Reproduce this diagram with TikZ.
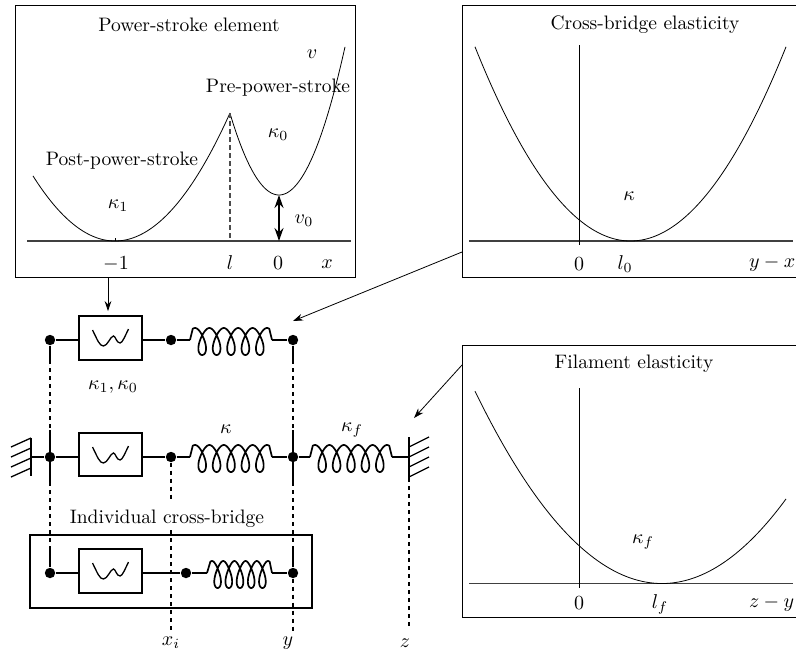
\documentclass[tikz,border=0pt]{standalone}
\usetikzlibrary{arrows.meta}
\tikzset{
  panel/.style={line width=0.5pt},
  axisline/.style={line width=0.6pt,color=black!75},
  vaxis/.style={line width=0.45pt},
  curve/.style={line width=0.4pt},
  lbl/.style={inner sep=0pt,outer sep=0pt,yshift=-0.5pt,font=\fontsize{9.75}{12}\selectfont},
  mech/.style={line width=0.85pt,line join=round},
  hatch/.style={line width=0.65pt},
  dot/.style={circle,fill=black,inner sep=0pt,minimum size=5.2pt},
  wellbox/.style={draw,line width=0.85pt,minimum width=31.5pt,minimum height=21.8pt,inner sep=0pt},
  dashlink/.style={mech,dash pattern=on 2pt off 2pt},
  thinarrow/.style={line width=0.4pt,-{Stealth[length=5pt,width=3.4pt]}},
}
% spring between two named coordinates: first top 5 units after the start, pitch #3, swing #4
\newcommand{\springcoil}[4]{%
  \draw[mech,shift={(#1)}] (#1) -- plot[variable=\t,domain=-20:1820,samples=300,smooth] ({5+#3*(\t/360)+sin(\t)*(#4-2*cos(\t))},{1.5-13.5*cos(\t)}) -- (#2);}
\newcommand{\wellglyph}[1]{%
  \draw[line width=0.65pt,shift={(#1)}] (-18,-8) .. controls (-13,2) and (-11,8) .. (-7,8) .. controls (-3,8) and (0,-2) .. (3,-2) .. controls (5,-2) and (6,5) .. (9.5,5) .. controls (12,5) and (15,-3) .. (18,-9);}
\begin{document}
\begin{tikzpicture}[x=0.5pt,y=-0.5pt]
\useasboundingbox (0,0) rectangle (796,654);
% Panel 1
\draw[panel] (15,5) rectangle (355,277);
\coordinate (p1out) at (108,277);
\coordinate (p2out) at (462,252);
\coordinate (p3out) at (462,365);
\draw[axisline] (27,241) -- (351,241);
\draw[vaxis] (115,238) -- (115,241);
\draw[curve] plot[domain=33:230,samples=80] (\x,{241-96.8*((\x-115)/100)^2});
\draw[curve] plot[domain=230:345,samples=80] (\x,{195-340*((\x-279)/100)^2});
\draw[line width=0.55pt,color=black!70,dash pattern=on 2.5pt off 1.5pt] (230,113) -- (230,241);
\draw[line width=0.85pt,{Stealth[length=6.5pt,width=4.5pt]}-{Stealth[length=6.5pt,width=4.5pt]}] (279,195) -- (279,241);
\node[lbl] (t1) at (189,24) {Power-stroke element};
\node[lbl] (vl) at (312,53) {$v$};
\node[lbl] (pre) at (278,87) {Pre-power-stroke};
\node[lbl] (k0) at (278,134) {$\kappa_0$};
\node[lbl] (post) at (122,160) {Post-power-stroke};
\node[lbl] (k1) at (118,205) {$\kappa_1$};
\node[lbl] (v0) at (304,220) {$v_0$};
\node[lbl] (m1) at (116,263) {$-1$};
\node[lbl] (ll) at (230,262) {$l$};
\node[lbl] (z1) at (278,262) {$0$};
\node[lbl] (xl) at (327,263) {$x$};
% Panel 2
\draw[panel] (796,5) -- (462,5) -- (462,277) -- (796,277);
\draw[axisline] (469,241) -- (793,241);
\draw[vaxis] (579,45) -- (579,245);
\draw[curve] plot[domain=475:786,samples=100] (\x,{241-80.3*((\x-630.5)/100)^2});
\node[lbl] (t2) at (645,24) {Cross-bridge elasticity};
\node[lbl] (ka) at (629,195) {$\kappa$};
\node[lbl] (z2) at (579,263) {$0$};
\node[lbl] (l0) at (625,263) {$l_0$};
\node[lbl,anchor=west] (yx) at (749,263) {$y-x$};
% Panel 3
\draw[panel] (796,345) -- (462,345) -- (462,617) -- (796,617);
\draw[axisline] (469,583.5) -- (793,583.5);
\draw[vaxis] (579,388) -- (579,588);
\draw[curve] plot[domain=475:786,samples=100] (\x,{583.5-55*((\x-662)/100)^2});
\node[lbl] (t3) at (634,363) {Filament elasticity};
\node[lbl] (kf) at (643,541) {$\kappa_f$};
\node[lbl] (z3) at (579,602) {$0$};
\node[lbl] (lf) at (660,603) {$l_f$};
\node[lbl,anchor=west] (zy) at (749,603) {$z-y$};
% Mechanical nodes
\node[dot] (a1) at (50,340) {};
\node[dot] (b1) at (171,340) {};
\node[dot] (c1) at (293,340) {};
\node[dot] (a2) at (50,457) {};
\node[dot] (b2) at (171,457) {};
\node[dot] (c2) at (293,457) {};
\node[dot] (a3) at (50,573) {};
\node[dot] (b3) at (186,573) {};
\node[dot] (c3) at (293,573) {};
\node[wellbox] (w1) at (110.5,338) {};
\node[wellbox] (w2) at (110.5,454.5) {};
\node[wellbox] (w3) at (110.5,571) {};
\wellglyph{110.5,338}
\wellglyph{110.5,455}
\wellglyph{110.5,571}
\coordinate (s1a) at (190,340); \coordinate (s1b) at (272,340);
\coordinate (s2a) at (190,457); \coordinate (s2b) at (272,457);
\coordinate (s3a) at (207,573); \coordinate (s3b) at (272,573);
\coordinate (s4a) at (310,457); \coordinate (s4b) at (392,457);
\coordinate (wallL) at (31,457);
\coordinate (wallR) at (409,457);
% Row 1
\draw[mech] (a1) -- (a1-|w1.west);
\draw[mech] (w1.east|-b1) -- (b1) -- (s1a);
\springcoil{s1a}{s1b}{14.4}{6.2}
\draw[mech] (s1b) -- (c1);
% Row 2
\draw[mech] (wallL) -- (a2) -- (a2-|w2.west);
\draw[mech] (w2.east|-b2) -- (b2) -- (s2a);
\springcoil{s2a}{s2b}{14.4}{6.2}
\draw[mech] (s2b) -- (c2) -- (s4a);
\springcoil{s4a}{s4b}{14.4}{6.2}
\draw[mech] (s4b) -- (wallR);
% Row 3
\draw[mech] (a3) -- (a3-|w3.west);
\draw[mech] (w3.east|-b3) -- (b3) -- (s3a);
\springcoil{s3a}{s3b}{11.2}{5}
\draw[mech] (s3b) -- (c3);
% Walls
\draw[mech] (31,438) -- (31,476);
\foreach \y in {438,448,458,468} \draw[hatch] (31,\y) -- (11,\y+9);
\draw[mech] (409,437) -- (409,478);
\foreach \y in {447,457,467,477} \draw[hatch] (409,\y) -- (429,\y-10);
% Vertical links
\draw[mech] (a1) -- (50,360);
\draw[dashlink] (50,360) -- (50,430);
\draw[mech] (50,430) -- (50,482);
\draw[dashlink] (50,482) -- (50,547);
\draw[mech] (50,547) -- (a3);
\draw[mech] (c1) -- (293,360);
\draw[dashlink] (293,360) -- (293,430);
\draw[mech] (293,430) -- (293,482);
\draw[dashlink] (293,482) -- (293,547);
\draw[mech] (293,547) -- (c3);
\coordinate (yend) at (293,632);
\draw[dashlink] (c3) -- (yend);
\coordinate (xbreak) at (171,500);
\coordinate (xresume) at (171,530);
\coordinate (xend) at (171,632);
\draw[dashlink] (b2) -- (xbreak);
\draw[dashlink] (xresume) -- (xend);
\coordinate (zend) at (409,627);
\draw[dashlink] (409,478) -- (zend);
% Individual box
\draw[line width=1.2pt] (30,535) rectangle (312,608);
\node[lbl] (ind) at (167,518) {Individual cross-bridge};
% labels
\node[lbl] (kk) at (113,386) {$\kappa_1,\kappa_0$};
\node[lbl] (k2) at (226,428) {$\kappa$};
\node[lbl] (k3) at (352,429) {$\kappa_f$};
\node[lbl] (xi) at (171,642) {$x_i$};
\node[lbl] (yy) at (288,642) {$y$};
\node[lbl] (zz) at (405,642) {$z$};
% Arrows
\coordinate (t1tip) at (108,311);
\coordinate (t2tip) at (293,321);
\coordinate (t3tip) at (414,418);
\draw[thinarrow] (p1out) -- (t1tip);
\draw[thinarrow] (p2out) -- (t2tip);
\draw[thinarrow] (p3out) -- (t3tip);
\end{tikzpicture}
\end{document}
